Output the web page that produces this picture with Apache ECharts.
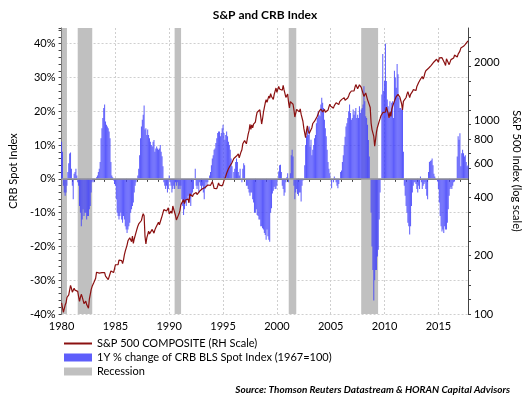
<!DOCTYPE html>
<html>
<head>
<meta charset="utf-8">
<script src="https://cdn.jsdelivr.net/npm/echarts@6/dist/echarts.min.js"></script>
<style>
  html, body { margin: 0; padding: 0; background: #fff; }
  #chart { width: 530px; height: 397px; }
</style>
</head>
<body>
<div id="chart"></div>
<script>
// monthly values, Jan 1980 .. Oct 2017
const startYear = 1980

// S&P 500 composite, month end
const spx = [
  114.2, 113.7, 102.1, 106.3, 111.2, 114.2, 121.7, 122.4, 125.5, 127.5, 140.5, 135.8,
  129.6, 131.3, 136.0, 132.8, 132.6, 131.2, 130.9, 122.8, 116.2, 121.9, 126.4, 122.6,
  120.4, 113.1, 112.0, 116.4, 111.9, 109.6, 107.1, 119.5, 120.4, 133.7, 138.5, 140.6,
  145.3, 148.1, 153.0, 164.4, 162.4, 168.1, 162.6, 164.4, 166.1, 163.6, 166.4, 164.9,
  163.4, 157.1, 159.2, 160.1, 150.6, 153.2, 150.7, 166.7, 166.1, 166.1, 163.6, 167.2,
  179.6, 181.2, 180.7, 179.8, 189.6, 191.9, 190.9, 188.6, 182.1, 189.8, 202.2, 211.3,
  211.8, 226.9, 238.9, 235.5, 247.4, 250.8, 236.1, 252.9, 231.3, 244.0, 249.2, 242.2,
  274.1, 284.2, 291.7, 288.4, 290.1, 304.0, 318.7, 329.8, 321.8, 251.8, 230.3, 247.1,
  257.1, 267.8, 258.9, 261.3, 262.2, 273.5, 272.0, 261.5, 271.9, 279.0, 273.7, 277.7,
  297.5, 288.9, 294.9, 309.6, 320.5, 318.0, 346.1, 351.5, 349.2, 340.4, 346.0, 353.4,
  329.1, 331.9, 339.9, 330.8, 361.2, 358.0, 356.2, 322.6, 306.1, 304.0, 322.2, 330.2,
  343.9, 367.1, 375.2, 375.4, 389.8, 371.2, 387.8, 395.4, 387.9, 392.5, 375.2, 417.1,
  408.8, 412.7, 403.7, 415.0, 415.4, 408.1, 424.2, 414.0, 417.8, 418.7, 431.4, 435.7,
  438.8, 443.4, 451.7, 440.2, 450.2, 450.5, 448.1, 463.6, 458.9, 467.8, 461.8, 466.5,
  481.6, 467.1, 445.8, 450.9, 456.5, 444.3, 458.3, 475.5, 462.7, 472.4, 453.7, 459.3,
  470.4, 487.4, 500.7, 514.7, 533.4, 544.8, 562.1, 561.9, 584.4, 581.5, 605.4, 615.9,
  636.0, 640.4, 645.5, 654.2, 669.1, 670.6, 640.0, 652.0, 687.3, 705.3, 757.0, 740.7,
  786.2, 790.8, 757.1, 801.3, 848.3, 885.1, 954.3, 899.5, 947.3, 914.6, 955.4, 970.4,
  980.3, 1049.3, 1101.8, 1111.8, 1090.8, 1133.8, 1120.7, 957.3, 1017.0, 1098.7, 1163.6, 1229.2,
  1279.6, 1238.3, 1286.4, 1335.2, 1301.8, 1372.7, 1328.7, 1320.4, 1282.7, 1362.9, 1388.9, 1469.3,
  1394.5, 1366.4, 1498.6, 1452.4, 1420.6, 1454.6, 1430.8, 1517.7, 1436.5, 1429.4, 1315.0, 1320.3,
  1366.0, 1239.9, 1160.3, 1249.5, 1255.8, 1224.4, 1211.2, 1133.6, 1040.9, 1059.8, 1139.5, 1148.1,
  1130.2, 1106.7, 1147.4, 1076.9, 1067.1, 989.8, 911.6, 916.1, 815.3, 885.8, 936.3, 879.8,
  855.7, 841.2, 848.2, 916.9, 963.6, 974.5, 990.3, 1008.0, 996.0, 1050.7, 1058.2, 1111.9,
  1131.1, 1144.9, 1126.2, 1107.3, 1120.7, 1140.8, 1101.7, 1104.2, 1114.6, 1130.2, 1173.8, 1211.9,
  1181.3, 1203.6, 1180.6, 1156.9, 1191.5, 1191.3, 1234.2, 1220.3, 1228.8, 1207.0, 1249.5, 1248.3,
  1280.1, 1280.7, 1294.8, 1310.6, 1270.1, 1270.2, 1276.7, 1303.8, 1335.9, 1377.9, 1400.6, 1418.3,
  1438.2, 1406.8, 1420.9, 1482.4, 1530.6, 1503.4, 1455.3, 1474.0, 1526.8, 1549.4, 1481.1, 1468.4,
  1378.6, 1330.6, 1322.7, 1385.6, 1400.4, 1280.0, 1267.4, 1282.8, 1166.4, 968.8, 896.2, 903.3,
  825.9, 735.1, 797.9, 872.8, 919.1, 919.3, 987.5, 1020.6, 1057.1, 1036.2, 1095.6, 1115.1,
  1073.9, 1104.5, 1169.4, 1186.7, 1089.4, 1030.7, 1101.6, 1049.3, 1141.2, 1183.3, 1180.6, 1257.6,
  1286.1, 1327.2, 1325.8, 1363.6, 1345.2, 1320.6, 1292.3, 1218.9, 1131.4, 1253.3, 1247.0, 1257.6,
  1312.4, 1365.7, 1408.5, 1397.9, 1310.3, 1362.2, 1379.3, 1406.6, 1440.7, 1412.2, 1416.2, 1426.2,
  1498.1, 1514.7, 1569.2, 1597.6, 1630.7, 1606.3, 1685.7, 1633.0, 1681.6, 1756.5, 1805.8, 1848.4,
  1782.6, 1859.5, 1872.3, 1884.0, 1923.6, 1960.2, 1930.7, 2003.4, 1972.3, 2018.1, 2067.6, 2058.9,
  1995.0, 2104.5, 2067.9, 2085.5, 2107.4, 2063.1, 2103.8, 1972.2, 1920.0, 2079.4, 2080.4, 2043.9,
  1940.2, 1932.2, 2059.7, 2065.3, 2097.0, 2098.9, 2173.6, 2171.0, 2168.3, 2126.2, 2198.8, 2238.8,
  2278.9, 2363.6, 2362.7, 2384.2, 2411.8, 2423.4, 2470.3, 2471.7, 2519.4, 2575.3
]

// CRB BLS spot index, 1 year % change
const crb = [
  11, 8, -2, -4, -5, -4, -2, 2, 4.6, 7.5, 7.8, 3,
  -2, -6, 1.5, 2, 3, 1, -1, -2, -8, -10, -14, -12,
  -9, -11, -10, -10, -12, -11, -11, -9, -8, -4, -1, -0.5,
  -1, 0, 0, 0.5, 1, 2, 3, 5, 12, 15, 18, 21,
  22, 17, 16, 15.5, 15, 14, 12, 5, 1, 0.5, -0.5, -1.5,
  -2, -6, -10, -11, -12, -11, -10, -12, -13, -11, -12, -14,
  -15, -16, -15, -14, -13, -10, -9, -8, -7, -4, -2, -1,
  0, 1, 3, 7, 12, 15.5, 17.5, 19, 21.7, 14.6, 15, 13,
  14.6, 13, 12, 11, 10, 9.6, 11, 11.5, 8, 9, 9.6, 9,
  8.6, 9, 10, 8, 6.7, 3.7, -1, -2, -3, -2, -4, -3,
  1, -1, -2, -4, -3, -2, -3, -1, -2, -1, -3, -2,
  -3, -2, -6, -8, -10.7, -9, -7, -8, -6, -5, -7, -6,
  -8, -5, -4, -3, 0, 3, -2, -3, -2, -4, -1, -2,
  -3, -2, -4, -6, -3, -1, -2, -1, 0, 1, 2, 4,
  6, 7, 8.6, 9, 10.6, 12, 13.6, 14, 14, 12.6, 13.6, 15,
  16, 13.6, 11.6, 13, 14, 12.6, 11, 10, 8.6, 6, 3.7, 0,
  2, 3, 5, 6, 5, 2, 1, 3, 0, -1, 3, 4.6,
  4, 0, -2, -2, -3, -4, -5, -4, -4, -6, -7, -10,
  -10, -9, -10.7, -11, -12, -12, -14, -14, -14.6, -15, -16, -16.6,
  -18, -15, -17, -18, -18.6, -10, -8.7, -4.3, -3.5, -2.3, -3, -3,
  -2, 0, 2.2, 4, 4.2, 2, -2, -3, -5, -4, -1, 0.5,
  1.7, -1, 0, 1.7, 7, 8.6, 6.6, -2, -6, -4, -3, -4.5,
  -5, -4, -4, -6.7, -2, -0.5, 0, 4, 10, 12.6, 14.5, 13,
  15.5, 9.6, 11.6, 7, 8.6, 10, 12, 13, 16.5, 18, 20, 19,
  18.5, 22, 24, 22.5, 21, 17.5, 15, 12.6, 8.6, 5, 3, 1.7,
  0, -2.8, 0, -1, 0.7, 0.2, -1, -2, -2.8, -1.5, 0, 2,
  2.5, 5, 7, 10, 12.5, 15.5, 16.5, 18, 20, 22, 19.5, 17.5,
  18, 20.5, 19, 20, 21, 18, 19, 18, 21.5, 19.5, 20.5, 21,
  22, 27.4, 23, 18.5, 18, 16, 11.5, 6.6, 0, -10, -20, -27,
  -36, -30, -27, -27, -23, -21, -12, -4, 0, 25, 37, 26,
  29, 40, 29, 23.5, 21.5, 18, 23, 20, 22.5, 23, 18, 32,
  30, 27, 34, 31, 24, 21, 21, 20.5, 21, 8, -2, -5,
  -8, -10, -13, -14, -16.5, -14, -8, -4, -2, -1, -1, -1.5,
  -3, -4, -2, -3, 0.7, -1, -3, -2, -1.5, -1, -3, -5,
  -6, 2, 5, 5.3, 5.5, 6, 4, 1.5, 0.7, 0.2, 0, -0.8,
  -3, -7, -11, -14, -15.6, -15, -16, -14, -15, -15, -13, -9,
  -5, -3, -2.5, -3, -2, -1, -0.8, -0.3, 0.2, 6.6, 12.6, 11.6,
  13.5, 3.7, 7.6, 8.6, 7.6, 6.6, 7, 5, 3.7, 4
]

// recession periods (decimal years)
const recessions = [[1980.0, 1980.5], [1981.5, 1982.85], [1990.5, 1991.1], [2001.1, 2001.8], [2007.83, 2009.4]]

const yearLabels = [1980, 1985, 1990, 1995, 2000, 2005, 2010, 2015]
const spxLabels = [100, 200, 400, 600, 800, 1000, 2000]

const lineName = 'S&P 500 COMPOSITE (RH Scale)'
const barName = '1Y % change of CRB BLS Spot Index (1967=100)'
const recName = 'Recession'

const font = 'Lato'
const axisColor = '#444'

const t = (i) => startYear + i / 12
const spxData = spx.map((v, i) => [t(i), v])
const crbData = crb.map((v, i) => [t(i), v])

// yearly ticks on the time axis, octave quarter ticks on the log axis
const yearTicks = []
for (let y = 1980; y <= 2017; y++) yearTicks.push(y)
const spxTicks = []
for (let k = 0; k < 20; k++) spxTicks.push(100 * Math.pow(2, k / 4))

const chart = echarts.init(document.getElementById('chart'))

chart.setOption({
  animation: false,
  backgroundColor: '#fff',
  textStyle: { fontFamily: font },
  title: {
    text: 'S&P and CRB Index',
    left: 'center',
    top: 4,
    textStyle: { fontFamily: font, fontSize: 12, fontWeight: 'bold', color: '#000' }
  },
  grid: { left: 58, right: 52, top: 28, bottom: 83 },
  legend: {
    orient: 'vertical',
    left: 58,
    top: 333,
    itemWidth: 28,
    itemHeight: 8,
    itemGap: 3,
    textStyle: { fontFamily: font, fontSize: 11, color: '#000' },
    data: [
      { name: lineName, itemStyle: { opacity: 0 } },
      { name: barName, icon: 'rect' },
      { name: recName, icon: 'rect' }
    ]
  },
  graphic: [{
    type: 'text',
    right: 20,
    top: 385,
    style: {
      text: 'Source: Thomson Reuters Datastream & HORAN Capital Advisors',
      font: 'italic bold 10px Lato',
      fill: '#000'
    }
  }],
  xAxis: {
    type: 'value',
    min: 1980,
    max: 2017.75,
    interval: 5,
    axisLine: { lineStyle: { color: axisColor } },
    axisTick: { customValues: yearTicks, length: 3, lineStyle: { color: axisColor } },
    axisLabel: {
      customValues: yearLabels,
      formatter: (v) => String(v),
      margin: 7,
      fontSize: 11,
      color: '#000',
      fontFamily: font
    },
    splitLine: { show: false }
  },
  yAxis: [
    {
      type: 'value',
      min: -40,
      max: 44.66,
      interval: 10,
      name: 'CRB Spot Index',
      nameLocation: 'middle',
      nameGap: 40,
      nameTextStyle: { fontFamily: font, fontSize: 11, color: '#000' },
      axisLine: { show: true, lineStyle: { color: axisColor } },
      axisTick: { show: true, length: 3, lineStyle: { color: axisColor } },
      minorTick: { show: true, splitNumber: 5, length: 3, lineStyle: { color: axisColor } },
      axisLabel: {
        formatter: (v) => (v % 10 === 0 ? v + '%' : ''),
        showMaxLabel: false,
        margin: 6,
        fontSize: 11,
        color: '#000',
        fontFamily: font
      },
      splitLine: { show: true, showMaxLine: false, lineStyle: { color: '#cfcfcf', type: [2, 2] } }
    },
    {
      type: 'log',
      logBase: 10,
      min: 100,
      max: 3000,
      position: 'right',
      name: 'S&P 500 Index (log scale)',
      nameLocation: 'middle',
      nameRotate: -90,
      nameGap: 43,
      nameTextStyle: { fontFamily: font, fontSize: 11, color: '#000' },
      axisLine: { show: true, lineStyle: { color: axisColor } },
      axisTick: { show: true, customValues: spxTicks, length: 3, lineStyle: { color: axisColor } },
      axisLabel: {
        customValues: spxLabels,
        formatter: (v) => String(Math.round(v)),
        margin: 6,
        fontSize: 11,
        color: '#000',
        fontFamily: font
      },
      splitLine: { show: false }
    }
  ],
  series: [
    {
      name: recName,
      type: 'line',
      data: [],
      color: '#c0c0c0',
      itemStyle: { color: '#c0c0c0' },
      markArea: {
        silent: true,
        z: 1,
        itemStyle: { color: '#c0c0c0' },
        data: recessions.map((r) => [{ xAxis: r[0] }, { xAxis: r[1] }])
      },
      markLine: {
        silent: true,
        z: 1,
        symbol: 'none',
        label: { show: false },
        lineStyle: { color: '#cfcfcf', type: [2, 2], width: 1 },
        data: yearLabels.slice(1).map((y) => ({ xAxis: y }))
      }
    },
    {
      name: barName,
      type: 'bar',
      yAxisIndex: 0,
      z: 2,
      barWidth: 1,
      data: crbData,
      itemStyle: { color: 'rgba(66,66,250,0.85)' },
      markLine: {
        silent: true,
        symbol: 'none',
        label: { show: false },
        lineStyle: { color: '#999', type: 'solid', width: 1.5 },
        data: [{ yAxis: 0 }]
      }
    },
    {
      name: lineName,
      type: 'line',
      yAxisIndex: 1,
      z: 3,
      symbol: 'none',
      data: spxData,
      color: '#8b1010',
      lineStyle: { color: '#8b1010', width: 1.2 }
    }
  ]
})
</script>
</body>
</html>
